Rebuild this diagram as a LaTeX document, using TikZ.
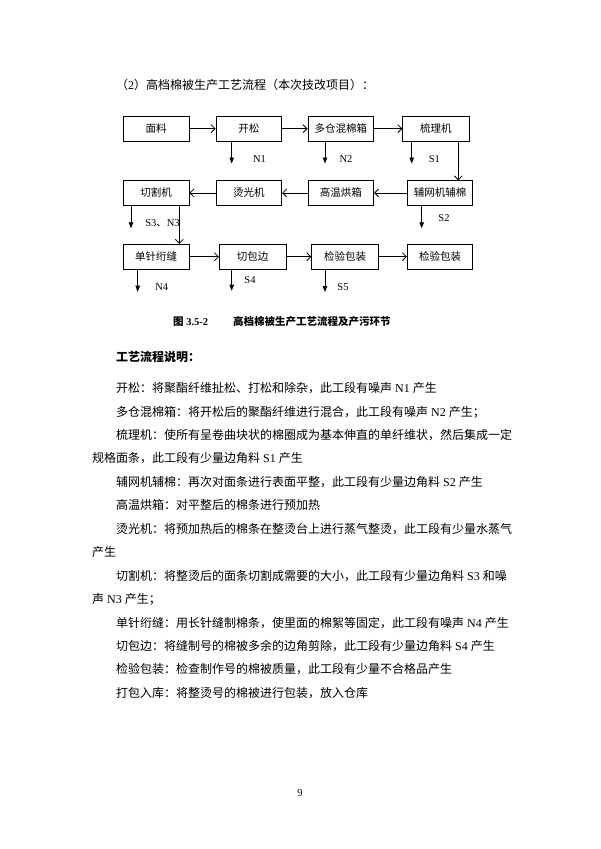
\documentclass[tikz,border=0pt]{standalone}
\usepackage{fontspec}
\setmainfont{Liberation Serif}
\newfontfamily\cjk{Noto Sans CJK SC}
\newcommand\zh[1]{{\cjk #1}}
\usetikzlibrary{arrows.meta}
\begin{document}
\begin{tikzpicture}[x=1pt,y=-1pt,
  proc/.style={draw, line width=0.8pt, minimum width=65.7pt, minimum height=24.8pt, inner sep=0pt, font=\fontsize{10.5}{12}\cjk},
  flow/.style={line width=0.8pt, -{Straight Barb[length=4pt,width=8pt]}},
  emis/.style={line width=0.8pt, -{Triangle[length=6pt,width=4.5pt]}},
  lab/.style={anchor=base, inner sep=0pt, font=\fontsize{10.5}{12}\selectfont},
  body/.style={anchor=base west, inner sep=0pt, font=\fontsize{12}{14}\selectfont},
  captxt/.style={anchor=base west, inner sep=0pt, font=\fontsize{10.5}{12}\selectfont\bfseries},
]
\useasboundingbox (0,0) rectangle (600,849);

% title
\node[body] (title) at (116,89.6) {\zh{（}2\zh{）高档棉被生产工艺流程（本次技改项目）：}};

% row 1
\node[proc] (b1) at (156.2,128.7) {面料};
\node[proc] (b2) at (248.9,128.7) {开松};
\node[proc] (b3) at (340.8,128.7) {多仓混棉箱};
\node[proc, minimum width=66.3pt] (b4) at (435.9,128.7) {梳理机};
% row 2
\node[proc, minimum height=24.3pt] (c1) at (156.2,192.9) {切割机};
\node[proc, minimum height=24.3pt] (c2) at (248.9,192.9) {烫光机};
\node[proc, minimum height=24.3pt] (c3) at (340.8,192.9) {高温烘箱};
\node[proc, minimum height=24.3pt, minimum width=65.4pt] (c4) at (440.0,192.9) {辅网机辅棉};
% row 3
\node[proc] (d1) at (156.2,256.7) {单针绗缝};
\node[proc, minimum width=66.7pt] (d2) at (252.7,256.7) {切包边};
\node[proc, minimum width=66.6pt] (d3) at (345.0,256.7) {检验包装};
\node[proc, minimum width=65.4pt] (d4) at (440.0,256.7) {检验包装};

% flow connectors
\draw[flow] (b1) -- (b2);
\draw[flow] (b2) -- (b3);
\draw[flow] (b3) -- (b4);
\coordinate (v1) at (458.3,0);
\draw[flow] (b4.south -| v1) -- (c4.north -| v1);
\draw[flow] (c4) -- (c3);
\draw[flow] (c3) -- (c2);
\draw[flow] (c2) -- (c1);
\coordinate (v2) at (179.3,0);
\draw[flow] (c1.south -| v2) -- (d1.north -| v2);
\draw[flow] (d1) -- (d2);
\draw[flow] (d2) -- (d3);
\draw[flow] (d3) -- (d4);

% emission arrows
\coordinate (eN1) at (231.7,163.5);
\coordinate (eN2) at (325.0,163.5);
\coordinate (eS1) at (411.7,163.5);
\coordinate (eS3) at (131.0,228.3);
\coordinate (eS2) at (421.7,228.3);
\coordinate (eN4) at (137.7,291.7);
\coordinate (eS4) at (231.7,290.7);
\coordinate (eS5) at (325.0,292.0);
\draw[emis] (b2.south -| eN1) -- (eN1);
\draw[emis] (b3.south -| eN2) -- (eN2);
\draw[emis] (b4.south -| eS1) -- (eS1);
\draw[emis] (c1.south -| eS3) -- (eS3);
\draw[emis] (c4.south -| eS2) -- (eS2);
\draw[emis] (d1.south -| eN4) -- (eN4);
\draw[emis] (d2.south -| eS4) -- (eS4);
\draw[emis] (d3.south -| eS5) -- (eS5);

% emission labels
\node[lab] (lN1) at (259.5,162.7) {N1};
\node[lab] (lN2) at (346.0,162.7) {N2};
\node[lab] (lS1) at (434.3,162.7) {S1};
\node[lab] (lS3) at (162.5,226.0) {S3\zh{、}N3};
\node[lab] (lS2) at (444.0,221.0) {S2};
\node[lab] (lN4) at (161.7,290.4) {N4};
\node[lab] (lS4) at (250.0,283.7) {S4};
\node[lab] (lS5) at (343.0,290.7) {S5};

% caption
\node[captxt] (capA) at (173,325.5) {\zh{图} 3.5-2};
\node[captxt] (capB) at (233,325.5) {\zh{高档棉被生产工艺流程及产污环节}};

% description
\node[body] (t0) at (116,361.3) {\zh{\bfseries 工艺流程说明：}};
\node[body] (t1) at (116,392.6) {\zh{开松：将聚酯纤维扯松、打松和除杂，此工段有噪声} N1 \zh{产生}};
\node[body] (t2) at (116,416.0) {\zh{多仓混棉箱：将开松后的聚酯纤维进行混合，此工段有噪声} N2 \zh{产生；}};
\node[body] (t3) at (116,439.5) {\zh{梳理机：使所有呈卷曲块状的棉圈成为基本伸直的单纤维状，然后集成一定}};
\node[body] (t4) at (92,462.9) {\zh{规格面条，此工段有少量边角料} S1 \zh{产生}};
\node[body] (t5) at (116,486.4) {\zh{辅网机辅棉：再次对面条进行表面平整，此工段有少量边角料} S2 \zh{产生}};
\node[body] (t6) at (116,509.8) {\zh{高温烘箱：对平整后的棉条进行预加热}};
\node[body] (t7) at (116,533.2) {\zh{烫光机：将预加热后的棉条在整烫台上进行蒸气整烫，此工段有少量水蒸气}};
\node[body] (t8) at (92,556.7) {\zh{产生}};
\node[body] (t9) at (116,580.1) {\zh{切割机：将整烫后的面条切割成需要的大小，此工段有少量边角料} S3 \zh{和噪}};
\node[body] (t10) at (92,603.6) {\zh{声} N3 \zh{产生；}};
\node[body] (t11) at (116,627.0) {\zh{单针绗缝：用长针缝制棉条，使里面的棉絮等固定，此工段有噪声} N4 \zh{产生}};
\node[body] (t12) at (116,650.4) {\zh{切包边：将缝制号的棉被多余的边角剪除，此工段有少量边角料} S4 \zh{产生}};
\node[body] (t13) at (116,673.9) {\zh{检验包装：检查制作号的棉被质量，此工段有少量不合格品产生}};
\node[body] (t14) at (116,697.3) {\zh{打包入库：将整烫号的棉被进行包装，放入仓库}};

% page number
\node[lab] (pg) at (300,796.5) {9};
\end{tikzpicture}
\end{document}
